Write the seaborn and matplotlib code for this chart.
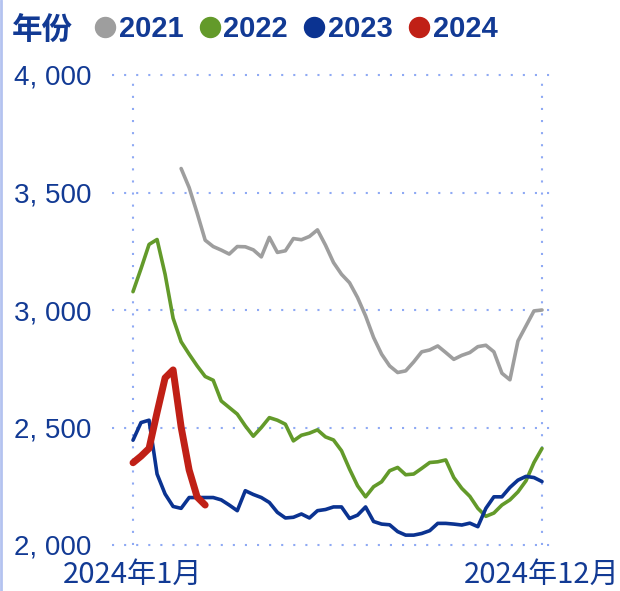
import numpy as np
import pandas as pd
import matplotlib
matplotlib.use("Agg")
import matplotlib.pyplot as plt
from matplotlib.lines import Line2D
import seaborn as sns

# weekly index (0 = first week of Jan, 51 = last week of Dec)
weeks = list(range(52))

years = ["2021", "2022", "2023", "2024"]
colors = ["#9e9e9e", "#639a2a", "#0b3391", "#c02016"]

# 2021 starts in week 6
start_2021 = 6
values_2021 = [3602, 3521, 3412, 3297, 3270, 3255, 3238, 3270, 3269, 3256,
               3226, 3309, 3245, 3252, 3304, 3299, 3313, 3341, 3276, 3202,
               3152, 3116, 3053, 2975, 2883, 2812, 2762, 2734, 2741, 2779,
               2822, 2830, 2847, 2819, 2790, 2807, 2819, 2844, 2850, 2822,
               2731, 2703, 2868, 2932, 2996, 3000]
values_2022 = [3078, 3176, 3279, 3300, 3152, 2965, 2865, 2812, 2762, 2717,
               2701, 2613, 2585, 2557, 2507, 2463, 2500, 2542, 2531, 2514,
               2443, 2467, 2476, 2490, 2460, 2447, 2401, 2323, 2252, 2205,
               2248, 2269, 2316, 2330, 2299, 2302, 2326, 2351, 2354, 2362,
               2287, 2241, 2207, 2156, 2122, 2136, 2170, 2192, 2226, 2273,
               2351, 2411]
values_2023 = [2446, 2521, 2531, 2302, 2217, 2164, 2156, 2202, 2202, 2202,
               2202, 2192, 2170, 2146, 2231, 2215, 2202, 2181, 2139, 2115,
               2118, 2132, 2115, 2146, 2151, 2162, 2162, 2113, 2127, 2162,
               2100, 2089, 2086, 2057, 2042, 2042, 2049, 2061, 2092, 2092,
               2089, 2085, 2093, 2078, 2156, 2205, 2205, 2245, 2276, 2292,
               2287, 2270]
values_2024 = [2350, 2378, 2411, 2564, 2711, 2745, 2502, 2319, 2204, 2170]

y_ticks = [2000, 2500, 3000, 3500, 4000]
y_tick_labels = ["2, 000", "2, 500", "3, 000", "3, 500", "4, 000"]
x_ticks = [0, 51]
x_tick_labels = ["2024年1月", "2024年12月"]

text_color = "#123a94"
grid_color = "#8ea9f4"

# long-form table for seaborn
frames = [
    pd.DataFrame({"week": weeks[start_2021:start_2021 + len(values_2021)], "value": values_2021, "year": "2021"}),
    pd.DataFrame({"week": weeks[:len(values_2022)], "value": values_2022, "year": "2022"}),
    pd.DataFrame({"week": weeks[:len(values_2023)], "value": values_2023, "year": "2023"}),
    pd.DataFrame({"week": weeks[:len(values_2024)], "value": values_2024, "year": "2024"}),
]
df = pd.concat(frames, ignore_index=True)

sns.set_theme(style="white")
plt.rcParams["font.family"] = ["Liberation Sans", "Noto Sans CJK SC", "DejaVu Sans"]

fig = plt.figure(figsize=(6.2, 5.91), dpi=100)
ax = fig.add_axes([112 / 620, 1 - 545 / 591, (557 - 112) / 620, (545 - 75) / 591])

for year, color in zip(years, colors):
    sub = df[df["year"] == year]
    lw = 5.0 if year == "2024" else 2.6
    sns.lineplot(data=sub, x="week", y="value", color=color, linewidth=lw,
                 ax=ax, legend=False, solid_capstyle="round", solid_joinstyle="round")

ax.set_xlim(-2.62, 52.87)
ax.set_ylim(2000, 4000)
ax.set_xticks(x_ticks)
ax.set_xticklabels(x_tick_labels, family=["Noto Sans CJK SC", "DejaVu Sans"], fontsize=21, color=text_color)
ax.set_yticks(y_ticks)
ax.set_yticklabels(y_tick_labels, family=["Liberation Sans", "DejaVu Sans"], fontsize=20, color=text_color)
ax.set_xlabel("")
ax.set_ylabel("")
ax.tick_params(axis="both", length=0)
ax.tick_params(axis="y", pad=15)
ax.tick_params(axis="x", pad=11)
for s in ax.spines.values():
    s.set_visible(False)

ax.grid(True, color=grid_color, linestyle=(0, (1, 4.8)), linewidth=1.5)
ax.set_axisbelow(True)
for gl in ax.get_xgridlines() + ax.get_ygridlines():
    gl.set_clip_on(False)

# legend across the top
handles = [Line2D([], [], marker="o", linestyle="", markersize=14.4,
                  markerfacecolor=c, markeredgecolor=c) for c in colors]
leg = fig.legend(handles, years, loc="center left", bbox_to_anchor=(95 / 620, 1 - 29 / 591),
                 ncol=4, frameon=False, borderpad=0, borderaxespad=0,
                 handlelength=0.68, handletextpad=0.14, columnspacing=0.55,
                 prop={"family": ["Liberation Sans", "DejaVu Sans"], "weight": "bold", "size": 21},
                 labelcolor=text_color)
fig.text(12 / 620, 1 - 30 / 591, "年份", ha="left", va="center", fontsize=22,
         fontweight="bold", color=text_color, family=["Noto Sans CJK SC", "DejaVu Sans"])

# thin border line on the left edge
fig.add_artist(Line2D([0.002, 0.002], [0, 1], color="#b4c3f0", linewidth=2, transform=fig.transFigure))

fig.savefig("out.png", dpi=100)
